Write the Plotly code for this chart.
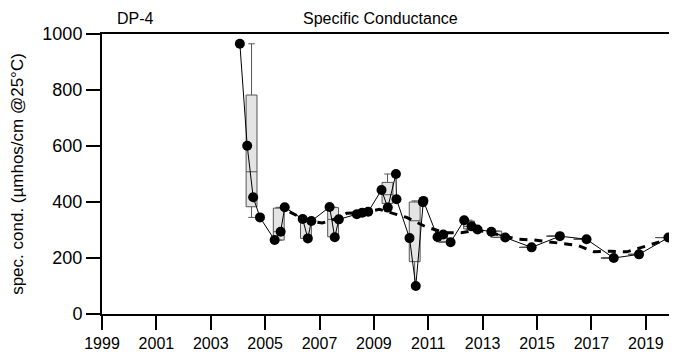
import plotly.graph_objects as go

# Individual samples (decimal year, specific conductance)
dates = [2004.07, 2004.34, 2004.56, 2004.81, 2005.35, 2005.57, 2005.72,
         2006.38, 2006.57, 2006.70, 2007.37, 2007.56, 2007.71,
         2008.37, 2008.57, 2008.79, 2009.28, 2009.51, 2009.81, 2009.83,
         2010.31, 2010.54, 2010.80, 2010.82, 2011.34, 2011.55, 2011.82,
         2012.32, 2012.59, 2012.81, 2013.32, 2013.83, 2014.80, 2015.84,
         2016.82, 2017.82, 2018.75, 2019.83]
values = [965, 601, 417, 345, 264, 294, 381,
          339, 270, 332, 382, 274, 338,
          356, 362, 365, 443, 380, 500, 410,
          271, 100, 399, 404, 275, 284, 256,
          335, 313, 302, 294, 273, 238, 278,
          267, 200, 213, 273]

# Annual box statistics
box_years = [2004.5, 2005.5, 2006.5, 2007.5, 2008.5, 2009.5, 2010.5, 2011.5,
             2012.5, 2013.5, 2014.55, 2015.55, 2016.55, 2017.55, 2018.55, 2019.55]
box_q1 = [383, 264, 270, 276, 356, 395, 187, 258, 304, 274, 238, 278, 267, 200, 213, 273]
box_med = [508, 294, 333, 338, 362, 426, 333, 276, 313, 284, 238, 278, 267, 200, 213, 273]
box_q3 = [782, 378, 342, 380, 365, 470, 400, 290, 332, 296, 238, 278, 267, 200, 213, 273]
box_lo = [345, 264, 270, 274, 356, 380, 100, 256, 302, 273, 238, 278, 267, 200, 213, 273]
box_hi = [965, 381, 339, 382, 365, 500, 404, 285, 335, 294, 238, 278, 267, 200, 213, 273]

# Smoothed trend (dashed)
trend_x = [2005.9, 2006.5, 2007.1, 2007.6, 2008.0, 2008.6, 2009.2, 2009.8,
           2010.2, 2010.9, 2011.6, 2012.2, 2012.8, 2013.5, 2014.3, 2014.9,
           2015.7, 2016.5, 2017.1, 2017.7, 2018.3, 2018.9, 2019.8]
trend_y = [365, 335, 325, 340, 360, 362, 374, 358,
           345, 312, 290, 290, 300, 285, 267, 264,
           255, 245, 222, 224, 222, 240, 266]

x_ticks = list(range(1999, 2020, 2))
y_ticks = [0, 200, 400, 600, 800, 1000]

FONT = "Liberation Sans, Arial, sans-serif"

fig = go.Figure()

fig.add_trace(go.Scatter(
    x=trend_x, y=trend_y, mode="lines",
    line=dict(color="black", width=3, dash="8px,7px"),
    showlegend=False, hoverinfo="skip"))

fig.add_trace(go.Box(
    x=box_years, q1=box_q1, median=box_med, q3=box_q3,
    lowerfence=box_lo, upperfence=box_hi,
    width=0.4, whiskerwidth=0.6, boxpoints=False,
    fillcolor="#e4e4e4", line=dict(color="#555555", width=1),
    showlegend=False))

fig.add_trace(go.Scatter(
    x=dates, y=values, mode="lines+markers",
    line=dict(color="black", width=1),
    marker=dict(color="black", size=10),
    showlegend=False))

fig.update_layout(
    width=669, height=352,
    margin=dict(l=93, r=2, t=26, b=46),
    paper_bgcolor="white", plot_bgcolor="white",
    font=dict(family=FONT, color="black", size=16),
    xaxis=dict(range=[1999, 2020], tickvals=x_ticks, ticks="outside",
               ticklen=14, tickwidth=2, tickcolor="black",
               showline=True, linewidth=2, linecolor="black", mirror=True,
               showgrid=False, zeroline=False,
               tickfont=dict(size=16)),
    yaxis=dict(range=[0, 1000], tickvals=y_ticks, ticks="outside",
               ticklen=14, tickwidth=2, tickcolor="black",
               showline=True, linewidth=2, linecolor="black", mirror=True,
               showgrid=False, zeroline=False,
               tickfont=dict(size=18),
               title=dict(text="spec. cond. (µmhos/cm @25°C)",
                          font=dict(size=17), standoff=20)),
    annotations=[
        dict(text="DP-4", xref="paper", yref="paper", x=0.059, y=1.057,
             xanchor="center", yanchor="middle", showarrow=False,
             font=dict(size=16)),
        dict(text="Specific Conductance", xref="paper", yref="paper",
             x=0.487, y=1.057, xanchor="center", yanchor="middle",
             showarrow=False, font=dict(size=16)),
    ],
)

fig.write_html("out.html")
